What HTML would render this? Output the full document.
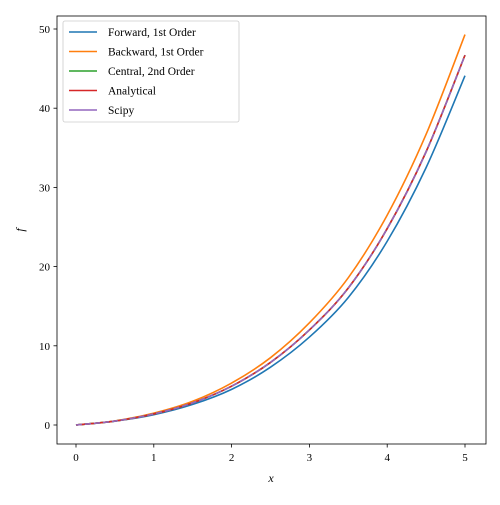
<!DOCTYPE html>
<html><head><meta charset="utf-8"><style>
html,body{margin:0;padding:0;background:#fff}
svg text{font-family:"Liberation Serif","DejaVu Serif",serif;fill:#000}
</style></head><body>
<svg id="chart" width="500" height="500" viewBox="0 0 500 500" xmlns="http://www.w3.org/2000/svg">
<rect x="0" y="0" width="500" height="500" fill="#fff"/>
<g id="plot"></g>
<rect x="57" y="16" width="429" height="428" fill="none" stroke="#000" stroke-width="0.8"/>
<g id="axes"></g>
<text x="271" y="482" font-size="12" font-style="italic" text-anchor="middle">x</text>
<text x="24" y="230" font-size="12" font-style="italic" text-anchor="middle" transform="rotate(-90 24 230)">f</text>
<g id="legend"></g>
</svg>
<script>
const xs=[0,0.5,1,1.5,2,2.5,3,3.5,4,4.5,5];
const forward=[0,0.48,1.3,2.6,4.5,7.3,11.1,16.1,23.2,32.5,44.1];
const backward=[0,0.52,1.5,3.0,5.3,8.5,12.9,18.6,26.5,36.7,49.3];
const central=[0,0.5,1.4,2.8,4.9,7.9,12.0,17.3,24.8,34.5,46.7];
const analytical=[0,0.5,1.4,2.8,4.9,7.9,12.0,17.3,24.8,34.5,46.7];
const scipy=[0,0.5,1.4,2.8,4.9,7.9,12.0,17.3,24.8,34.5,46.7];
const xTicks=[0,1,2,3,4,5];
const yTicks=[0,10,20,30,40,50];
const seriesNames=["Forward, 1st Order","Backward, 1st Order","Central, 2nd Order","Analytical","Scipy"];
const NS="http://www.w3.org/2000/svg";
const sx=v=>76+v*77.8;
const sy=v=>425-v*7.92;
function mk(t,a,p){const e=document.createElementNS(NS,t);for(const k in a)e.setAttribute(k,a[k]);p.appendChild(e);return e;}
const axes=document.getElementById('axes');
xTicks.forEach(t=>{
  const l=mk('line',{x1:sx(t),x2:sx(t),y1:444,y2:447.5,stroke:'#000','stroke-width':0.8},axes);
  
  
  const tx=mk('text',{x:sx(t),y:461,'font-size':11,'text-anchor':'middle'},axes);
  tx.textContent=t;
  
  
});
yTicks.forEach(t=>{
  const l=mk('line',{x1:53.5,x2:57,y1:sy(t),y2:sy(t),stroke:'#000','stroke-width':0.8},axes);
  
  
  const tx=mk('text',{x:50,y:sy(t)+4,'font-size':11,'text-anchor':'end'},axes);
  tx.textContent=t;
  
  
});
function pathFor(ys){
  const p=xs.map((x,i)=>[sx(x),sy(ys[i])]);
  let d='M'+p[0][0]+','+p[0][1];
  for(let i=0;i<p.length-1;i++){
    const p0=p[Math.max(i-1,0)],p1=p[i],p2=p[i+1],p3=p[Math.min(i+2,p.length-1)];
    const c1=[p1[0]+(p2[0]-p0[0])/6,p1[1]+(p2[1]-p0[1])/6];
    const c2=[p2[0]-(p3[0]-p1[0])/6,p2[1]-(p3[1]-p1[1])/6];
    d+=' C'+c1+' '+c2+' '+p2;
  }
  return d;
}
const plot=document.getElementById('plot');
const styles=[['#1f77b4',''],['#ff7f0e',''],['#2ca02c',''],['#d62728',''],['#9467bd','6,3']];
const names=['forward-line','backward-line','central-line','analytical-line','scipy-line'];
[forward,backward,central,analytical,scipy].forEach((s,i)=>{
  const a={d:pathFor(s),fill:'none',stroke:styles[i][0],'stroke-width':1.6};
  if(styles[i][1])a['stroke-dasharray']=styles[i][1];
  const e=mk('path',a,plot);
  
  
});
const lg=document.getElementById('legend');
const box=mk('rect',{x:63,y:21,width:176,height:101,rx:2,fill:'#fff','fill-opacity':0.8,stroke:'#ccc','stroke-width':0.8},lg);


seriesNames.forEach((n,i)=>{
  const y=32+i*19.5;
  const l=mk('line',{x1:69,x2:97,y1:y,y2:y,stroke:styles[i][0],'stroke-width':1.6},lg);
  
  
  const t=mk('text',{x:108,y:y+4,'font-size':11.5},lg);
  t.textContent=n;
  
  
});
</script>
</body></html>
